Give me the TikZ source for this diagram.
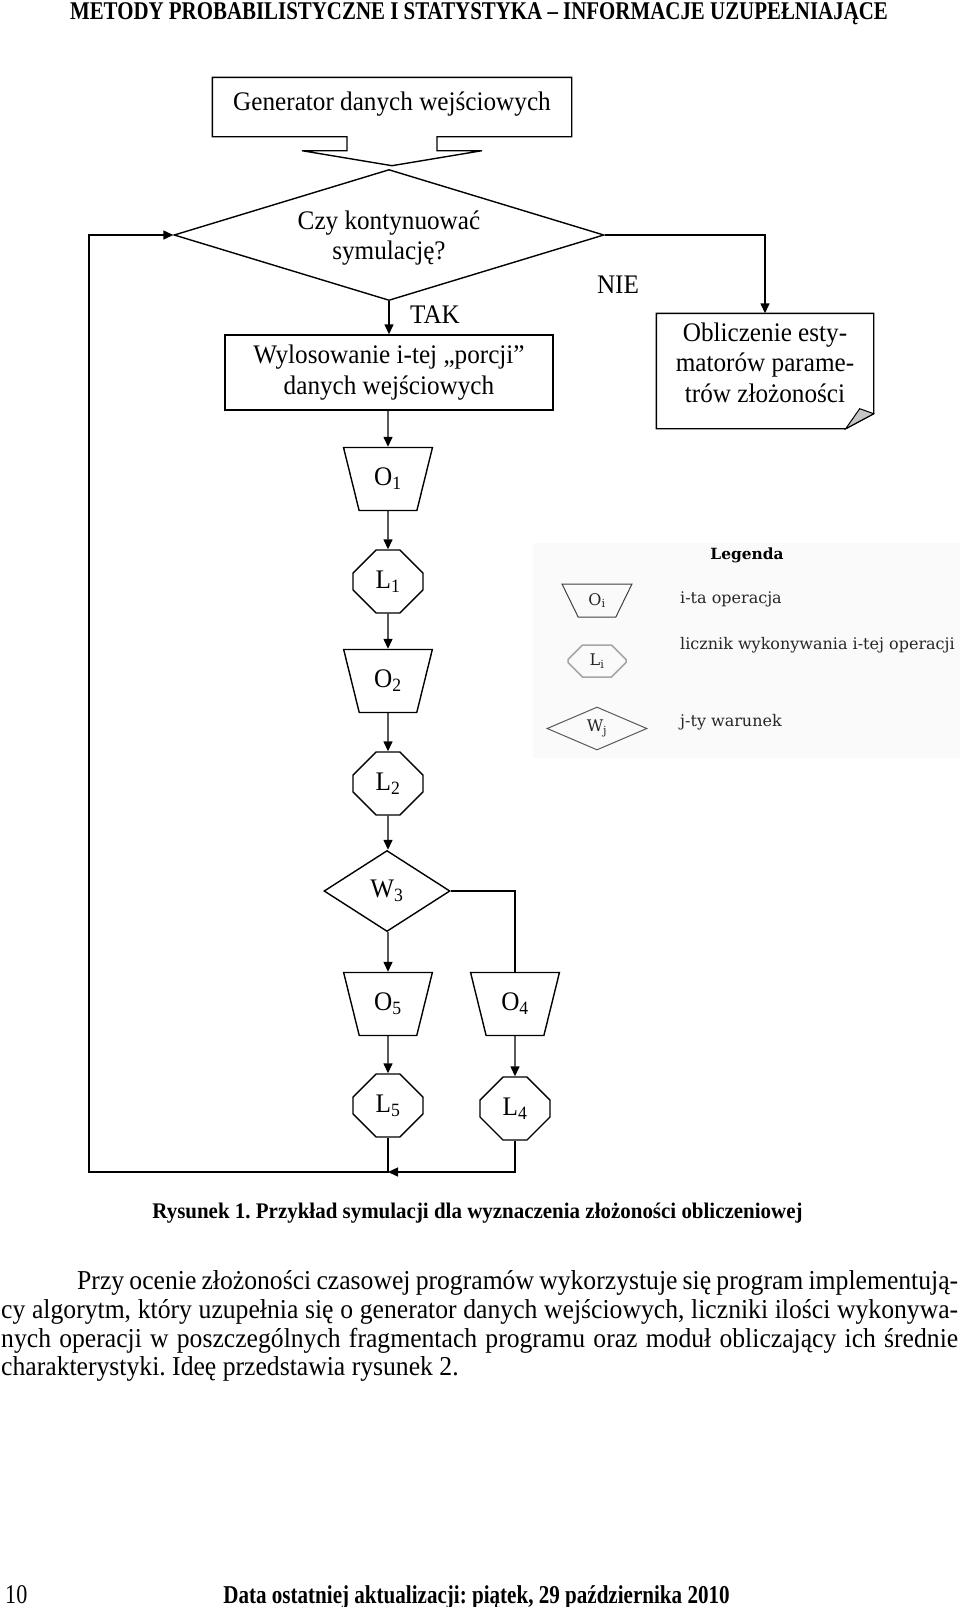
\documentclass[tikz,border=0pt]{standalone}
\usepackage{fontspec}
\setmainfont{Liberation Serif}[FakeStretch=0.94]
\newfontfamily\headfont{Liberation Serif}[FakeStretch=0.82]
\newfontfamily\legfont{DejaVu Serif}
\usetikzlibrary{
    positioning,
    arrows.meta,
    shapes.geometric,
    shapes.misc,
}
\frenchspacing
\newcommand{\chartfont}{\fontsize{26.8}{30.5}\selectfont}
\tikzset{
    % Flowchart node styles
    box/.style={rectangle, draw, line width=1.4pt, inner sep=0pt,
                align=center, font=\chartfont},
    oper/.style={trapezium, draw, line width=1.4pt, shape border rotate=180,
                 trapezium left angle=71, trapezium right angle=71,
                 trapezium stretches=true, minimum width=89pt,
                 minimum height=63pt, inner sep=0pt, font=\chartfont},
    counter/.style={chamfered rectangle, draw, line width=1.4pt,
                    chamfered rectangle xsep=17pt, chamfered rectangle ysep=17pt,
                    minimum width=70pt, minimum height=63pt, inner sep=0pt,
                    font=\chartfont},
    cond/.style={diamond, draw, line width=1.4pt, inner sep=0pt,
                 align=center, font=\chartfont},
    % Arrow styles
    arrow/.style={-{Triangle[length=10pt, width=9pt]}, line width=1.4pt},
    plain line/.style={line width=1.4pt},
    % Text styles
    annot/.style={font=\chartfont, inner sep=0pt},
    para/.style={font=\fontsize{27.3}{28.5}\selectfont, inner sep=0pt, anchor=base west},
}

\begin{document}
\begin{tikzpicture}[x=1pt, y=-1pt,
    legend text/.style={font=\legfont\fontsize{16}{19}\selectfont, inner sep=0pt, text=black!85},
]
    \useasboundingbox[fill=white] (0,0) rectangle (960,1607);

    % Header
    \node[font=\headfont\bfseries\fontsize{25.5}{28}\selectfont, inner sep=0pt, anchor=base] (header) at (479,19)
        {METODY PROBABILISTYCZNE I STATYSTYKA – INFORMACJE UZUPEŁNIAJĄCE};

    % Input generator
    \node[box, draw=none, text depth=12pt, minimum width=358pt, minimum height=58pt] (gen) at (392,107) {Generator danych wejściowych};
    \draw[plain line] ([xshift=-45pt]gen.south) -- (gen.south west) -- (gen.north west) -- (gen.north east)
        -- (gen.south east) -- ([xshift=45pt]gen.south) -- ++(0,14) -- ++(45,0) -- ++(-90,15) -- ++(-90,-15) -- ++(45,0) -- cycle;

    % Continue?
    \node[cond, aspect=3.3, text depth=0pt, minimum width=430pt, minimum height=131pt] (cont) at (389,235) {Czy kontynuować\\symulację?};

    % Draw data portion
    \node[box, minimum width=328pt, minimum height=75pt] (losuj) at (389,372.5) {Wylosowanie i-tej „porcji”\\danych wejściowych};

    % Estimators
    \node[box, draw=none, text depth=17pt, minimum width=216pt, minimum height=114pt] (est) at (765,371) {Obliczenie esty-\\matorów parame-\\trów złożoności};
    \draw[plain line] (est.north west) -- (est.north east) -- ([yshift=15pt]est.south east)
        -- ([xshift=-28pt]est.south east) -- (est.south west) -- cycle;
    \filldraw[line width=1pt, fill=gray!45] ([yshift=15pt]est.south east) -- ([xshift=-28pt]est.south east)
        -- ([xshift=-14pt, yshift=20pt]est.south east) -- cycle;

    % Operations and counters
    \node[oper] (O1) at (388,479) {O\textsubscript{1}};
    \node[counter] (L1) at (388,581.5) {L\textsubscript{1}};
    \node[oper] (O2) at (388,681) {O\textsubscript{2}};
    \node[counter] (L2) at (388,783.5) {L\textsubscript{2}};
    \node[cond, aspect=1.55, minimum width=126pt, minimum height=81pt] (W3) at (387,891) {W\textsubscript{3}};
    \node[oper] (O5) at (388,1004) {O\textsubscript{5}};
    \node[oper] (O4) at (515,1004) {O\textsubscript{4}};
    \node[counter] (L5) at (388,1105.5) {L\textsubscript{5}};
    \node[counter] (L4) at (515,1108.5) {L\textsubscript{4}};

    % Labels
    \node[annot] (tak) at (435,315) {TAK};
    \node[annot] (nie) at (618,285) {NIE};

    % Arrows
    \draw[arrow] (cont.south) -- (losuj.north);
    \draw[arrow] (cont.east) -| (est);
    \draw[arrow] (losuj.south -| O1) -- (O1);
    \draw[arrow] (O1) -- (L1);
    \draw[arrow] (L1) -- (O2);
    \draw[arrow] (O2) -- (L2);
    \draw[arrow] (L2) -- (L2 |- W3.north);
    \draw[arrow] (W3.south -| O5) -- (O5);
    \draw[plain line] (W3.east) -| (O4);
    \draw[arrow] (O5) -- (L5);
    \draw[arrow] (O4) -- (L4);
    \coordinate (loop corner) at (89,1172);
    \coordinate (join) at (L5.south |- loop corner);
    \draw[arrow] (L5.south) |- (loop corner) |- (cont.west);
    \draw[arrow] (L4.south) |- (join);

    % Legend
    \fill[black!2] (533,543) rectangle (960,758);
    \node[font=\legfont\bfseries\fontsize{15.4}{18}\selectfont, inner sep=0pt] (legtitle) at (747,555) {Legenda};
    \node[trapezium, draw=black!75, line width=1pt, shape border rotate=180, trapezium left angle=63,
          trapezium right angle=63, trapezium stretches=true, minimum width=70pt, minimum height=33pt,
          inner sep=0pt, legend text] (legO) at (597,600.5) {O\textsubscript{i}};
    \node[chamfered rectangle, draw=gray!70, line width=1.5pt, chamfered rectangle xsep=9pt,
          chamfered rectangle ysep=9pt, minimum width=58pt, minimum height=32pt, inner sep=0pt,
          legend text] (legL) at (597,661) {L\textsubscript{i}};
    \node[diamond, aspect=2.3, draw=black!65, line width=1pt, minimum width=100pt, minimum height=43pt,
          inner sep=0pt, legend text] (legW) at (597,728.5) {W\textsubscript{j}};
    \node[legend text, anchor=west] (legOtxt) at (680,599) {i-ta operacja};
    \node[legend text, anchor=west] (legLtxt) at (680,645) {licznik wykonywania i-tej operacji};
    \node[legend text, anchor=west] (legWtxt) at (680,722) {j-ty warunek};

    % Caption
    \node[font=\bfseries\fontsize{22.3}{26}\selectfont, inner sep=0pt] (caption) at (477.5,1213)
        {Rysunek 1. Przykład symulacji dla wyznaczenia złożoności obliczeniowej};

    % Paragraph
    \node[para] (par1) at (77,1289) {\makebox[881pt][s]{Przy ocenie złożoności czasowej programów wykorzystuje się program implementują-}};
    \node[para] (par2) at (1,1318) {\makebox[957pt][s]{cy algorytm, który uzupełnia się o generator danych wejściowych, liczniki ilości wykonywa-}};
    \node[para] (par3) at (1,1347) {\makebox[957pt][s]{nych operacji w poszczególnych fragmentach programu oraz moduł obliczający ich średnie}};
    \node[para] (par4) at (1,1375) {charakterystyki. Ideę przedstawia rysunek 2.};

    % Footer
    \node[font=\headfont\fontsize{27}{30}\selectfont, inner sep=0pt, anchor=base west] (pagenum) at (5,1603) {10};
    \node[font=\headfont\bfseries\fontsize{25.7}{30}\selectfont, inner sep=0pt, anchor=base] (footer) at (476.5,1603)
        {Data ostatniej aktualizacji: piątek, 29 października 2010};
\end{tikzpicture}
\end{document}
